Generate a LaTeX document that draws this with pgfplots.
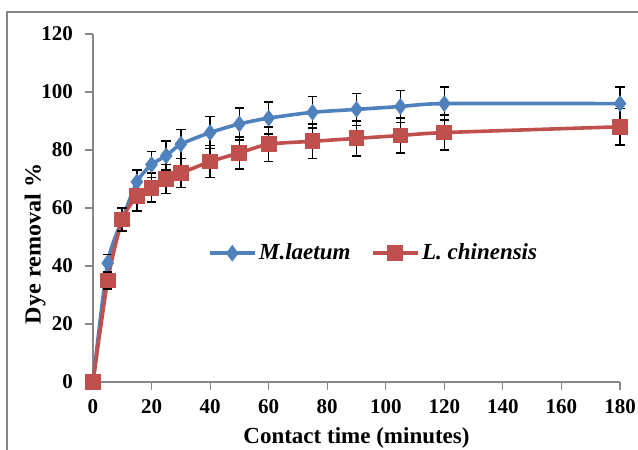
\documentclass[border=0pt]{standalone}
\usepackage{pgfplots}
\pgfplotsset{compat=1.18}
\usepackage{fontspec}
\setmainfont{Liberation Serif}
\definecolor{mblue}{RGB}{79,129,189}
\definecolor{mred}{RGB}{192,80,77}
\definecolor{axgray}{RGB}{134,134,134}
\begin{document}
\begin{tikzpicture}
\useasboundingbox (0,0) rectangle (319pt,225pt);
\draw[axgray, line width=0.7pt] (3.5pt,219pt) rectangle (340pt,-20pt);
\begin{axis}[
  at={(46.5pt,34pt)}, anchor=south west,
  width=263.5pt, height=174pt, scale only axis,
  xmin=0, xmax=180, ymin=0, ymax=120,
  xtick={0,20,...,180}, ytick={0,20,...,120},
  axis lines=left,
  axis line style={axgray, line width=0.6pt, -},
  tick style={axgray, line width=0.6pt},
  tick align=outside, major tick length=4pt,
  /pgf/number format/assume math mode=true,
  ticklabel style={font=\fontsize{10.5}{12}\selectfont\bfseries, black},
  yticklabel style={xshift=-2.5pt},
  xticklabel style={yshift=-1pt},
  every axis x label/.style={at={(axis description cs:0.5,-0.16)}, anchor=center, font=\fontsize{11.5}{13}\selectfont\bfseries},
  every axis y label/.style={at={(axis description cs:-0.11,0.397)}, rotate=90, anchor=center, font=\fontsize{11.5}{13}\selectfont\bfseries},
  xlabel={Contact time (minutes)},
  ylabel={\scalebox{1.05}[1]{Dye removal \%}},
  legend style={draw=none, fill=none, at={(axis description cs:0.207,0.37)}, anchor=west,
    font=\fontsize{11.5}{13}\selectfont\bfseries\itshape, column sep=0pt,
    nodes={inner xsep=1.5pt},
    /tikz/every even column/.append style={column sep=9pt}},
  legend columns=2,
  legend image code/.code={\draw[mark repeat=2,mark phase=2] plot coordinates {(0pt,0pt) (11pt,0pt) (22pt,0pt)};},
  clip=false,
]
\addplot[mblue, line width=1.8pt, smooth, tension=0.4, mark=diamond*, mark size=3.8pt,
  mark options={solid, fill=mblue, draw=mblue, line width=0.5pt},
  error bars/.cd, y dir=both, y explicit,
  error bar style={black, line width=0.8pt},
  error mark options={black, mark size=2.4pt, line width=0.8pt, rotate=90}]
coordinates {
(0,0) +- (0,0)
(5,41) +- (0,3)
(10,56) +- (0,4)
(15,69) +- (0,4)
(20,75) +- (0,4.5)
(25,78) +- (0,5)
(30,82) +- (0,5)
(40,86) +- (0,5.5)
(50,89) +- (0,5.5)
(60,91) +- (0,5.5)
(75,93) +- (0,5.5)
(90,94) +- (0,5.5)
(105,95) +- (0,5.5)
(120,96) +- (0,5.7)
(180,96) +- (0,5.7)
};
\addlegendentry{M.laetum}
\addplot[mred, line width=1.8pt, smooth, tension=0.4, mark=square*, mark size=3.7pt,
  mark options={solid, fill=mred, draw=mred, line width=0.5pt},
  error bars/.cd, y dir=both, y explicit,
  error bar style={black, line width=0.8pt},
  error mark options={black, mark size=2.4pt, line width=0.8pt, rotate=90}]
coordinates {
(0,0) +- (0,0)
(5,35) +- (0,3)
(10,56) +- (0,4)
(15,64) +- (0,5)
(20,67) +- (0,5)
(25,70) +- (0,5)
(30,72) +- (0,5)
(40,76) +- (0,5.5)
(50,79) +- (0,5.5)
(60,82) +- (0,6)
(75,83) +- (0,6)
(90,84) +- (0,6)
(105,85) +- (0,6)
(120,86) +- (0,6)
(180,88) +- (0,6.3)
};
\addlegendentry{L. chinensis}
\end{axis}
\end{tikzpicture}
\end{document}
